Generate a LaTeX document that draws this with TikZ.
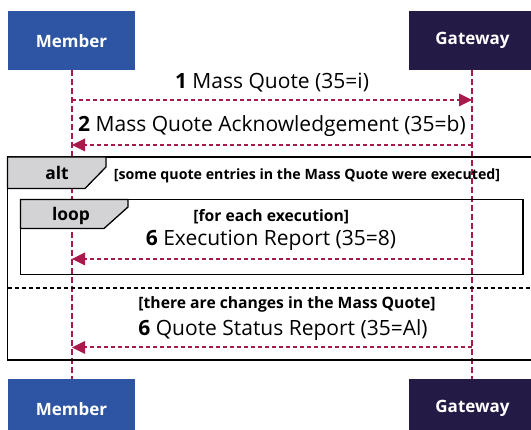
\documentclass[tikz,border=0pt]{standalone}
\usepackage{fontspec}
\setmainfont{Open Sans}
\usetikzlibrary{arrows.meta}
\definecolor{memberblue}{HTML}{2E55A3}
\definecolor{gwpurple}{HTML}{231A45}
\definecolor{life}{HTML}{A8194C}
\definecolor{tabgray}{HTML}{D3D3D6}
\begin{document}
\begin{tikzpicture}[x=1pt,y=-1pt,
 actor/.style={minimum width=127pt, minimum height=59pt, inner sep=0, text=white, font=\fontsize{17}{20}\selectfont\bfseries},
 lifeline/.style={draw=life, line width=2pt, dash pattern=on 6pt off 3pt},
 msg/.style={draw=life, line width=2pt, dash pattern=on 4pt off 3pt, -{Triangle[length=13pt,width=13pt,fill=life,line width=0pt]}},
 msglabel/.style={font=\fontsize{21}{25}\selectfont, text=black, inner sep=0, anchor=base},
 cond/.style={font=\fontsize{14.2}{17}\selectfont\bfseries, inner sep=0, anchor=base},
 condbig/.style={font=\fontsize{15.7}{19}\selectfont\bfseries, inner sep=0, anchor=base},
 tablabel/.style={font=\fontsize{17.4}{20}\selectfont\bfseries, inner sep=0, anchor=base},
 framebox/.style={draw=black, line width=1.3pt},
 tabbox/.style={fill=tabgray, draw=black, line width=1.3pt},
 sepline/.style={draw=black, line width=1.1pt, dash pattern=on 4pt off 3pt}
]
\useasboundingbox (0,0) rectangle (531,430);
\clip (0,0) rectangle (531,430);
% actors
\node[actor, fill=memberblue, anchor=north] (mtop) at (71.5,11) {Member};
\node[actor, fill=gwpurple, anchor=north] (gtop) at (472.5,11) {Gateway};
\node[actor, fill=memberblue, anchor=north] (mbot) at (71.5,379) {Member};
\node[actor, fill=gwpurple, anchor=north] (gbot) at (472.5,379) {Gateway};
% lifelines
\coordinate (mt) at (72,70);
\coordinate (mb) at (72,379);
\coordinate (gt) at (472,70);
\coordinate (gb) at (472,379);
\draw[lifeline] (mt) -- (mb);
\draw[lifeline] (gt) -- (gb);
% messages 1 and 2
\coordinate (m1) at (72,100);
\coordinate (g1) at (472,100);
\coordinate (m2) at (72,145);
\coordinate (g2) at (472,145);
\node[msglabel] (l1) at (272,88.7) {\textbf{1} Mass Quote (35=i)};
\draw[msg] (m1) -- (g1);
\node[msglabel] (l2) at (272,132) {\textbf{2} Mass Quote Acknowledgement (35=b)};
\draw[msg] (g2) -- (m2);
% alt frame
\draw[framebox] (7.5,157) rectangle (545,360);
\draw[tabbox] (7.5,157) -- (106,157) -- (106,167) -- (85,188.5) -- (7.5,188.5) -- cycle;
\node[tablabel] (alt) at (57,180) {alt};
\node[cond] (c1) at (307,180) {[some quote entries in the Mass Quote were executed]};
% loop frame
\draw[framebox] (20.5,199.5) rectangle (523,274.5);
\draw[tabbox] (20.5,199.5) -- (128,199.5) -- (128,207) -- (104,228.5) -- (20.5,228.5) -- cycle;
\node[tablabel] (loop) at (71,220.7) {loop};
\node[condbig] (c2) at (271.3,221.7) {[for each execution]};
\node[msglabel] (l6a) at (271,245.5) {\textbf{6} Execution Report (35=8)};
\coordinate (m6a) at (72,259);
\coordinate (g6a) at (472,259);
\draw[msg] (g6a) -- (m6a);
% separator
\coordinate (s1) at (7.5,288);
\coordinate (s2) at (545,288);
\draw[sepline] (s1) -- (s2);
\node[condbig] (c3) at (287,308.5) {[there are changes in the Mass Quote]};
\node[msglabel] (l6b) at (283,335.5) {\textbf{6} Quote Status Report (35=Al)};
\coordinate (m6b) at (72,347.5);
\coordinate (g6b) at (472,347.5);
\draw[msg] (g6b) -- (m6b);
\end{tikzpicture}
\end{document}
